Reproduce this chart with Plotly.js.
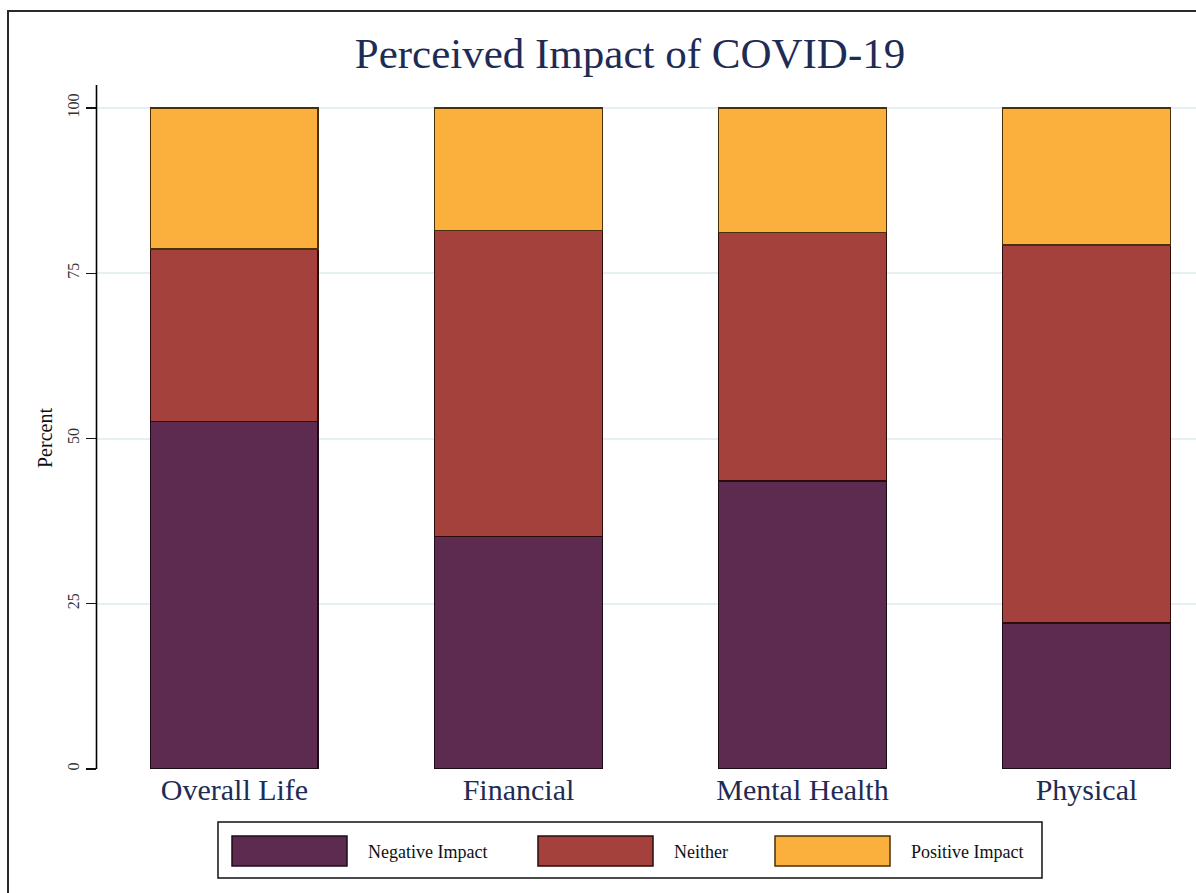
<!DOCTYPE html>
<html>
<head>
<meta charset="utf-8">
<script src="https://cdn.plot.ly/plotly-3.0.1.min.js"></script>
<style>
html,body{margin:0;padding:0;background:#fff;overflow:hidden;}
#chart{width:1196px;height:893px;}
#frame{position:absolute;left:7px;top:10px;width:1400px;height:1000px;border-left:2.5px solid #2a2a2a;border-top:2.5px solid #2a2a2a;pointer-events:none;}
</style>
</head>
<body>
<div id="chart"></div>
<div id="frame"></div>
<script>
// Data
const categories = ["Overall Life", "Financial", "Mental Health", "Physical"];
const seriesNames = ["Negative Impact", "Neither", "Positive Impact"];
const negativeImpact = [52.6, 35.2, 43.6, 22.1];
const neither = [26.1, 46.3, 37.6, 57.2];
const positiveImpact = [21.3, 18.5, 18.8, 20.7];
const yTicks = [0, 25, 50, 75, 100];

// Styles
const fills = ["#5d2a50", "#a4413c", "#fbb03d"];
const edges = ["#1c0c18", "#2a0d0b", "#4a3008"];
const serif = "Liberation Serif, Times New Roman, serif";
const navy = "#1e2c55";

// pixel -> paper helpers (plot area: x 97..1196, y 85..769)
const L = 97, R = 1196, T = 85, B = 769;
const px = v => (v - L) / (R - L);
const py = v => (B - v) / (B - T);

const values = [negativeImpact, neither, positiveImpact];
const traces = values.map((vals, i) => ({
  type: "bar",
  name: seriesNames[i],
  x: categories.map((c, k) => k),
  y: vals,
  width: 0.59,
  marker: {color: fills[i], line: {color: edges[i], width: 1.5}},
  showlegend: false,
  hoverinfo: "skip"
}));

// custom legend + y axis line
const shapes = [
  {type: "rect", xref: "paper", yref: "paper", x0: px(218), x1: px(1042), y0: py(822), y1: py(878),
   line: {color: "#111", width: 1.5}, fillcolor: "rgba(0,0,0,0)"},
  {type: "line", xref: "paper", yref: "paper", x0: px(96.5), x1: px(96.5), y0: 0, y1: 1,
   layer: "above", line: {color: "#000", width: 1.6}}
];
const annotations = [
  {xref: "paper", yref: "paper", x: px(45), y: py(438), text: "Percent", showarrow: false,
   textangle: -90, xanchor: "center", yanchor: "middle", font: {family: serif, size: 20, color: "#111"}}
];
const swX = [232, 538, 775];
const lbX = [366, 672, 909];
seriesNames.forEach((n, i) => {
  shapes.push({type: "rect", xref: "paper", yref: "paper", x0: px(swX[i]), x1: px(swX[i] + 115),
    y0: py(836), y1: py(866), fillcolor: fills[i], line: {color: edges[i], width: 1.5}});
  annotations.push({xref: "paper", yref: "paper", x: px(lbX[i]), y: py(852), text: n, showarrow: false,
    xanchor: "left", yanchor: "middle", font: {family: serif, size: 18, color: "#111"}});
});

const layout = {
  width: 1196, height: 893,
  margin: {l: L, r: 1196 - R, t: T, b: 893 - B, pad: 0},
  paper_bgcolor: "#fff", plot_bgcolor: "#fff",
  barmode: "stack",
  title: {text: "Perceived Impact of COVID-19", x: 630 / 1196, xanchor: "center",
          y: 1 - 53 / 893, yanchor: "middle", font: {family: serif, size: 43, color: navy}},
  xaxis: {
    range: [-0.484, (R - 234.5) / 284],
    tickmode: "array", tickvals: categories.map((c, k) => k), ticktext: categories,
    showgrid: false, zeroline: false, showline: false, ticks: "",
    tickfont: {family: serif, size: 30, color: navy}
  },
  yaxis: {
    range: [0, (B - T) / 6.61],
    tickmode: "array", tickvals: yTicks, ticktext: yTicks.map(String),
    tickangle: -90, ticks: "outside", ticklen: 10, tickcolor: "#111", tickwidth: 1.2,
    showline: true, linecolor: "#000", linewidth: 1.5,
    showgrid: true, gridcolor: "#e6eff2", gridwidth: 2, zeroline: false,
    tickfont: {family: serif, size: 16, color: "#333"}
  },
  shapes: shapes,
  annotations: annotations,
  showlegend: false
};

Plotly.newPlot("chart", traces, layout, {displayModeBar: false, staticPlot: true});
</script>
</body>
</html>
